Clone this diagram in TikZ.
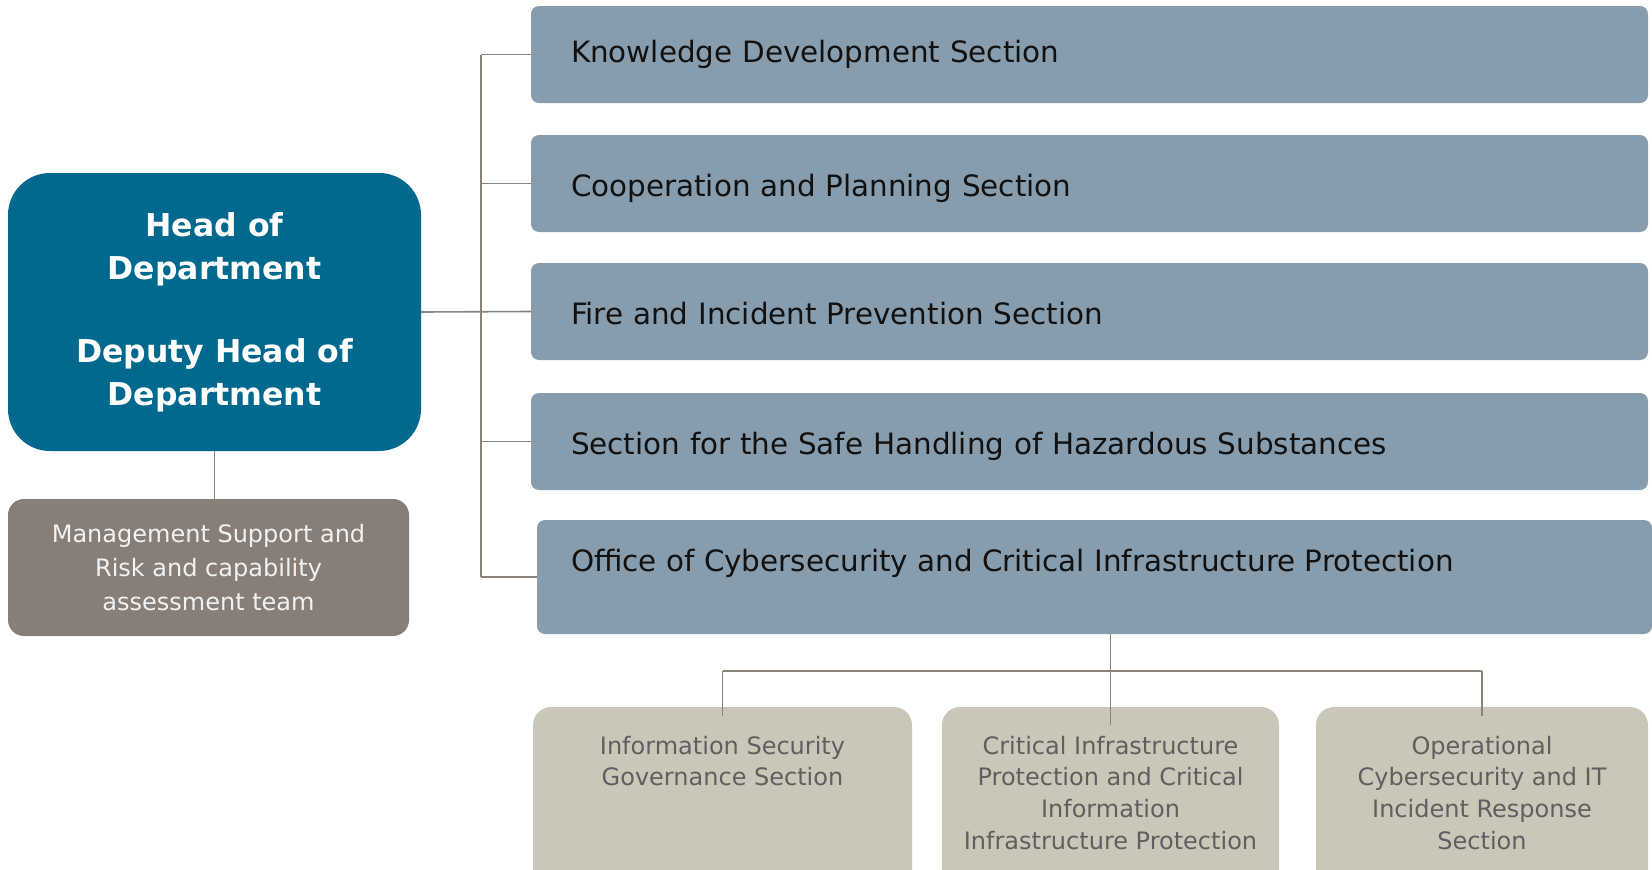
\documentclass[tikz,border=0pt]{standalone}
\usepackage{fontspec}
\setmainfont{DejaVu Sans}
\definecolor{headblue}{HTML}{02698E}
\definecolor{secblue}{HTML}{879DAE}
\definecolor{mgmtgray}{HTML}{877E77}
\definecolor{subbeige}{HTML}{CAC7B9}
\definecolor{linegray}{HTML}{8A827B}
\definecolor{subtext}{HTML}{5F5F5F}
\definecolor{sectext}{HTML}{111111}
\begin{document}
\begin{tikzpicture}[x=1pt,y=-1pt,
  secbox/.style={fill=secblue, draw=none, rounded corners=8pt, minimum height=97pt,
    minimum width=1117pt, text width=1037pt, inner xsep=40pt, align=left,
    text height=30pt, text depth=5pt,
    font=\fontsize{29.4}{34}\selectfont, text=sectext},
  headbox/.style={fill=headblue, draw=none, rounded corners=42pt, minimum width=413pt,
    minimum height=278pt, align=center, text=white,
    font=\bfseries\fontsize{31.5}{43}\selectfont},
  mgmtbox/.style={fill=mgmtgray, draw=none, rounded corners=16pt, minimum width=401pt,
    minimum height=137pt, align=center, text=white!95!black,
    font=\fontsize{24}{34}\selectfont},
  subbox/.style={fill=subbeige, draw=none, rounded corners=18pt, minimum height=183pt},
  subtxt/.style={anchor=north, inner sep=0pt, align=center, text=subtext,
    font=\fontsize{24}{31.6}\selectfont},
  conn/.style={draw=linegray, line width=1.6pt}
]
\useasboundingbox (0,0) rectangle (1652,870);
\clip (0,0) rectangle (1652,870);

\node[headbox] (head) at (214.5,312) {Head of\\Department\\[40pt]Deputy Head of\\Department};
\node[mgmtbox] (mgmt) at (208.5,567.5) {Management Support and\\Risk and capability\\assessment team};

\node[secbox, text height=21pt] (s1) at (1089.5,54.5) {Knowledge Development Section};
\node[secbox] (s2) at (1089.5,183.5) {Cooperation and Planning Section};
\node[secbox] (s3) at (1089.5,311.5) {Fire and Incident Prevention Section};
\node[secbox] (s4) at (1089.5,441.5) {Section for the Safe Handling of Hazardous Substances};
\node[fill=secblue, rounded corners=8pt, minimum width=1115pt, minimum height=114pt] (s5) at (1094.5,577) {};
\node[anchor=base west, inner sep=0pt, text=sectext, font=\fontsize{29.4}{34}\selectfont] (t5)
  at (571,571) {Office of Cybersecurity and Critical Infrastructure Protection};

\node[subbox, minimum width=379pt] (a) at (722.5,798.5) {};
\node[subbox, minimum width=337pt] (b) at (1110.5,798.5) {};
\node[subbox, minimum width=332pt] (c) at (1482,798.5) {};
\node[subtxt] (ta) at ([yshift=-29pt]a.north) {Information Security\\Governance Section};
\node[subtxt] (tb) at ([yshift=-29pt]b.north) {Critical Infrastructure\\Protection and Critical\\Information\\Infrastructure Protection};
\node[subtxt] (tc) at ([yshift=-29pt]c.north) {Operational\\Cybersecurity and IT\\Incident Response\\Section};

% connectors
\coordinate (trunk) at (481,0);
\draw[conn] (trunk |- s1.west) -- (trunk |- s5.west);
\foreach \s in {s1,s2,s3,s4,s5} {\draw[conn] (trunk |- \s.west) -- (\s.west);}
\draw[conn] (head.east) -- (s3.west);
\draw[conn] (head.south) -- (head.south |- mgmt.north);

\coordinate (busy) at (0,671);
\draw[conn] (a.north |- busy) -- (c.north |- busy);
\draw[conn] (a.north |- busy) -- ([yshift=-9pt]a.north);
\draw[conn] (c.north |- busy) -- ([yshift=-9pt]c.north);
\draw[conn] (s5.south -| b.north) -- ([yshift=-18pt]b.north);
\end{tikzpicture}
\end{document}
